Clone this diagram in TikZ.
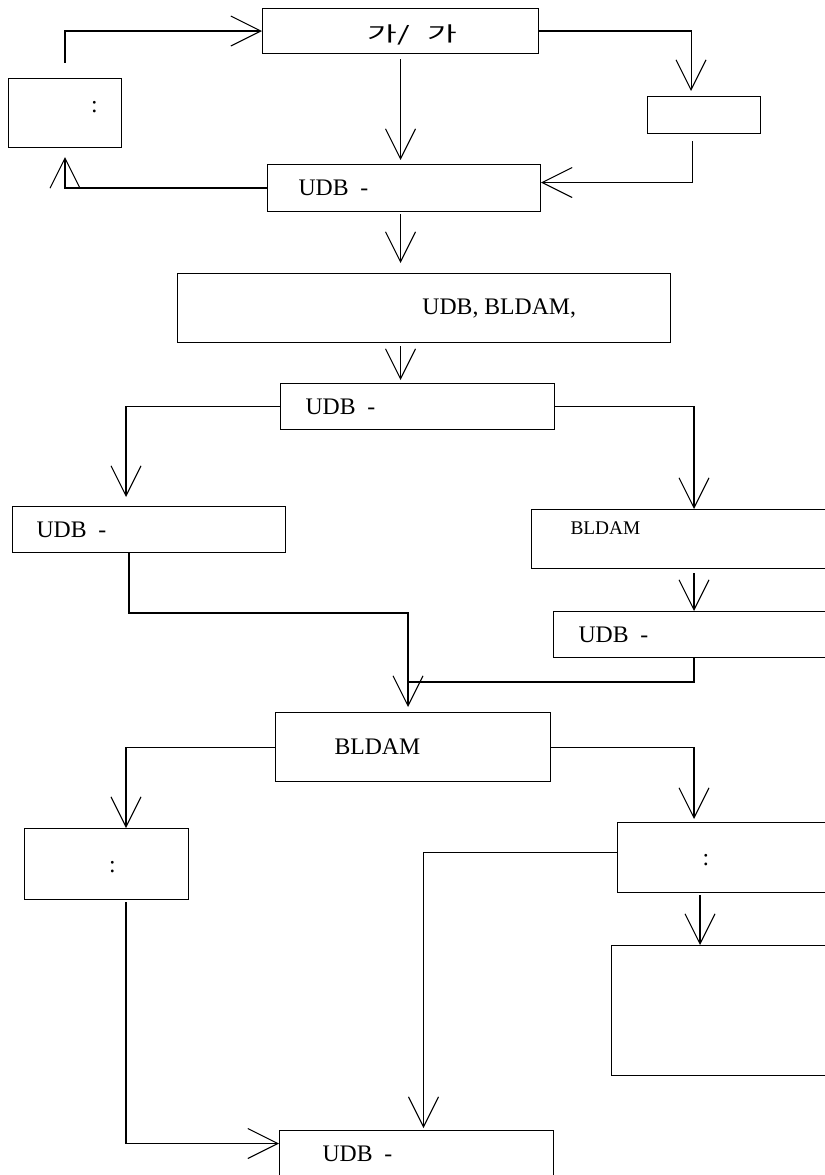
\documentclass[tikz,border=0pt]{standalone}
\usepackage{graphicx}
\usepackage{fontspec}
\setmainfont{Liberation Serif}
\newfontfamily\krfont{Noto Sans CJK KR}
\usetikzlibrary{positioning, arrows.meta}

\begin{document}
\begin{tikzpicture}[
		x=0.02cm, y=-0.02cm,
		box/.style={rectangle, draw, line width=0.6pt, inner sep=0pt, anchor=north west},
		txt/.style={inner sep=0pt, font=\fontsize{13.5}{16}\selectfont},
		smalltxt/.style={inner sep=0pt, font=\fontsize{11}{13}\selectfont},
		krtxt/.style={inner sep=0pt, font=\krfont\fontsize{11.5}{13}\selectfont},
		line width=0.6pt,
		>={Straight Barb[length=6mm, width=6mm]}
	]

	\path[use as bounding box, fill=white] (0,0) rectangle (824,1175);

	% boxes
	\node[box, minimum width=5.52cm, minimum height=0.9cm] (topbox) at (262,8) {};
	\node[box, minimum width=2.26cm, minimum height=1.38cm] (leftbox) at (8,78) {};
	\node[box, minimum width=2.26cm, minimum height=0.74cm] (rightbox) at (647,96) {};
	\node[box, minimum width=5.46cm, minimum height=0.94cm] (udba) at (267,164) {};
	\node[box, minimum width=9.86cm, minimum height=1.38cm] (bigbox) at (177,273) {};
	\node[box, minimum width=5.48cm, minimum height=0.92cm] (udbb) at (280,383) {};
	\node[box, minimum width=5.46cm, minimum height=0.92cm] (udbc) at (12,506) {};
	\node[box, minimum width=6cm, minimum height=1.18cm] (bldama) at (531,509) {};
	\node[box, minimum width=5.8cm, minimum height=0.92cm] (udbd) at (553,611) {};
	\node[box, minimum width=5.5cm, minimum height=1.38cm] (bldamb) at (275,712) {};
	\node[box, minimum width=3.28cm, minimum height=1.42cm] (colona) at (24,828) {};
	\node[box, minimum width=4.4cm, minimum height=1.4cm] (colonb) at (617,822) {};
	\node[box, minimum width=4.4cm, minimum height=2.6cm] (emptybox) at (611,945) {};
	\node[box, minimum width=5.48cm, minimum height=1cm] (udbe) at (279,1130) {};

	% texts
	\node[krtxt] (gagat) at ([xshift=0.24cm, yshift=-0.07cm]topbox.center) {\scalebox{1.6}[1]{가/\hspace{6pt}가}};
	\node[txt] (leftt) at ([xshift=0.59cm, yshift=0.11cm]leftbox.center) {:};
	\node[txt, right=0.62cm of udba.west] (udbat) {UDB\ \ -};
	\node[txt, right=4.9cm of bigbox.west] (bigt) {UDB,\ BLDAM,};
	\node[txt, right=0.5cm of udbb.west] (udbbt) {UDB\ \ -};
	\node[txt, right=0.48cm of udbc.west] (udbct) {UDB\ \ -};
	\node[smalltxt, right=0.78cm of bldama.west, yshift=0.21cm] (bldamat) {BLDAM};
	\node[txt, right=0.5cm of udbd.west] (udbdt) {UDB\ \ -};
	\node[txt, right=1.18cm of bldamb.west] (bldambt) {BLDAM};
	\node[txt] (colonat) at ([xshift=0.12cm, yshift=-0.07cm]colona.center) {:};
	\node[txt, right=1.7cm of colonb.west, yshift=-0.06cm] (colonbt) {:};
	\node[txt, right=0.86cm of udbe.west, yshift=0.04cm] (udbet) {UDB\ \ -};

	% trunks
	\coordinate (ltrunk) at (126,0);
	\coordinate (rtrunk) at (694,0);
	\coordinate (etrunk) at (700,0);
	\coordinate (mbend) at (408,613);
	\coordinate (mjoin) at (408,682);

	\draw[->, shorten <=0.3cm] (leftbox.north) |- (topbox.west);
	\draw[->, shorten <=0.1cm, shorten >=0.08cm] (topbox.south) -- (topbox.south |- udba.north);
	\draw[->, shorten >=0.1cm] (topbox.east) -| ([xshift=-0.26cm]rightbox.north);
	\draw[->, shorten <=0.14cm] ([xshift=-0.24cm]rightbox.south) |- ([yshift=0.11cm]udba.east);
	\draw[->, shorten >=0.18cm] (udba.west) -| (leftbox.south);
	\draw[->, shorten <=0.04cm, shorten >=0.2cm] (udba.south -| topbox.south) -- (bigbox.north -| topbox.south);
	\draw[->, shorten <=0.06cm, shorten >=0.06cm] (bigbox.south -| topbox.south) -- (udbb.north -| topbox.south);

	\draw[->, shorten >=0.18cm] (udbb.west) -| (udbc.north -| ltrunk);
	\draw[->] (udbb.east) -| (bldama.north -| rtrunk);
	\draw[->, shorten <=0.08cm] (bldama.south -| rtrunk) -- (udbd.north -| rtrunk);
	\draw[->, shorten >=0.1cm] ([xshift=0.06cm]udbc.south -| ltrunk) |- (mbend) -- (bldamb.north -| mbend);
	\draw (udbd.south -| rtrunk) |- (mjoin);

	\draw[->] (bldamb.west) -| (colona.north -| ltrunk);
	\draw[->, shorten >=0.06cm] (bldamb.east) -| (colonb.north -| rtrunk);
	\draw[->, shorten >=0.04cm] ([yshift=0.1cm]colonb.west) -| ([xshift=0.14cm]udbe.north);
	\draw[->, shorten <=0.04cm] (colonb.south -| etrunk) -- (emptybox.north -| etrunk);
	\draw[->, shorten <=0.04cm] (colona.south -| ltrunk) |- ([yshift=0.24cm]udbe.west);

\end{tikzpicture}
\end{document}
